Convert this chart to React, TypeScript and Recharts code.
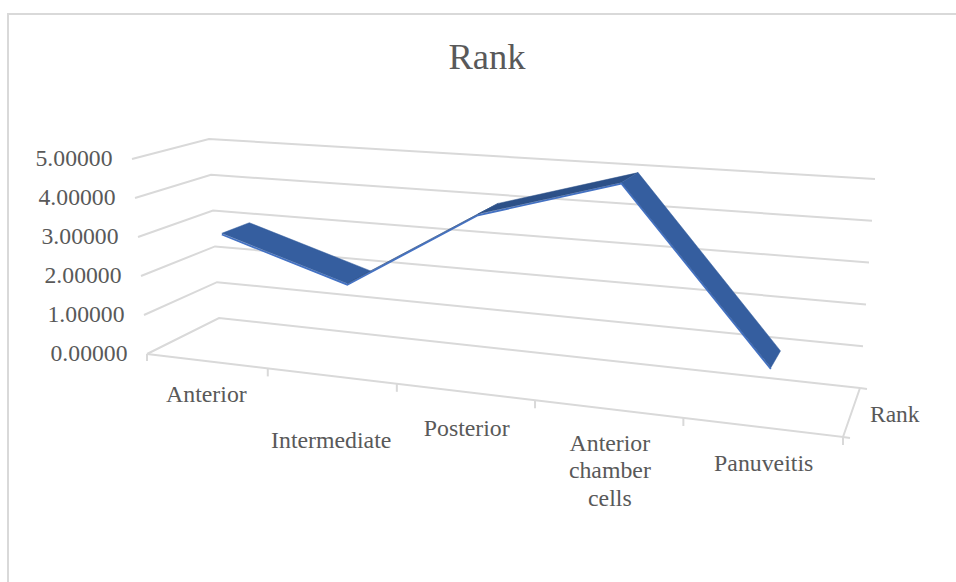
import { LineChart, Line, XAxis, YAxis } from 'recharts';

const categories = ['Anterior', 'Intermediate', 'Posterior', 'Anterior chamber cells', 'Panuveitis'];
const rankValues = [3, 2, 4, 5, 1];
const valueTicks = [0, 1, 2, 3, 4, 5];

const chartData = categories.map((name, i) => ({ name, rank: rankValues[i] }));

const WIDTH = 956;
const HEIGHT = 582;
const PLOT = { left: 100, top: 100, width: 700, height: 400 };
const GRID = '#D9D9D9';
const TEXT = '#595959';
const FONT = '"Liberation Serif", serif';

// label offsets from the floor for each category (Excel staggers Intermediate)
const labelDrop = [33, 64, 36, 34, 36];
const labelNudge = [0, 0, 2, 2, 2];

// screen corners of the 3D box: front/back, left/right, floor/top
const box = {
  fl0: [147, 354], fr0: [843, 437], bl0: [219, 318], br0: [860, 388],
  fl1: [132, 159], fr1: [850, 207], bl1: [209, 139], br1: [875, 179],
};

const mix = (a: number[], b: number[], k: number) => [a[0] + (b[0] - a[0]) * k, a[1] + (b[1] - a[1]) * k];

// t = 0..1 along categories, v = 0..1 up the value axis, d = 0 front .. 1 back
function project(t: number, v: number, d: number) {
  const s = (t * 0.84) / (t * 0.84 + (1 - t)); // perspective along x
  const floor = mix(mix(box.fl0, box.fr0, s), mix(box.bl0, box.br0, s), d);
  const top = mix(mix(box.fl1, box.fr1, s), mix(box.bl1, box.br1, s), d);
  return mix(floor, top, v);
}

const toT = (x: number) => (x - PLOT.left) / PLOT.width;
const toV = (y: number) => (PLOT.top + PLOT.height - y) / PLOT.height;
const pt = (p: number[]) => `${p[0].toFixed(1)},${p[1].toFixed(1)}`;

function ValueTick({ y, payload }: any) {
  const v = toV(y);
  const front = project(0, v, 0);
  const back = project(0, v, 1);
  const right = project(1, v, 1);
  const isFloor = payload.value === 0;
  return (
    <g>
      <polyline points={[front, back, right].map(pt).join(' ')} fill="none" stroke={GRID} strokeWidth={2} />
      {isFloor && (
        <g fill="none" stroke={GRID} strokeWidth={2}>
          <polyline points={[project(0, 0, 0), project(1, 0, 0), project(1, 0, 1)].map(pt).join(' ')} />
          <line x1={front[0]} y1={front[1]} x2={front[0]} y2={front[1] + 7} />
          <line x1={right[0]} y1={right[1]} x2={right[0] + 7} y2={right[1] + 1} />
          <line x1={box.fr0[0]} y1={box.fr0[1]} x2={box.fr0[0] + 7} y2={box.fr0[1] + 1} />
          <line x1={box.fr0[0]} y1={box.fr0[1]} x2={box.fr0[0]} y2={box.fr0[1] + 8} />
        </g>
      )}
      <text x={front[0] - 19.5} y={front[1] + 7} textAnchor="end" fontSize={23.7} fontFamily={FONT} fill={TEXT}>
        {Number(payload.value).toFixed(5)}
      </text>
    </g>
  );
}

function CategoryTick({ x, payload, index }: any) {
  const t = toT(x);
  const floor = project(t, 0, 0);
  const mark = project(t + 0.1, 0, 0);
  const lines = String(payload.value).split(' ');
  return (
    <g>
      {index < categories.length - 1 && (
        <line x1={mark[0]} y1={mark[1]} x2={mark[0]} y2={mark[1] + 8} stroke={GRID} strokeWidth={2} />
      )}
      <text textAnchor="middle" fontSize={23.8} fontFamily={FONT} fill={TEXT}>
        {lines.map((line, i) => (
          <tspan key={line} x={floor[0] + labelNudge[index]} y={floor[1] + labelDrop[index] + 8 + i * 27.5}>
            {line}
          </tspan>
        ))}
      </text>
    </g>
  );
}

// the ribbon is drawn once, from the points the Line hands to its first dot
function RibbonDot({ index, points }: any) {
  if (index !== 0) return <g key={index} />;
  const front = points.map((p: any) => project(toT(p.x), toV(p.y), 0.33));
  const back = points.map((p: any) => project(toT(p.x), toV(p.y), 0.72));
  const edge = front.map((p: number[]) => [p[0], p[1] + 1.2]);
  return (
    <g key="ribbon">
      <polyline points={edge.map(pt).join(' ')} fill="none" stroke="#4472C4" strokeWidth={1.8} />
      {front.slice(1).map((_: number[], i: number) => {
        const rising = points[i + 1].y < points[i].y;
        return (
          <polygon
            key={i}
            points={[front[i], back[i], back[i + 1], front[i + 1]].map(pt).join(' ')}
            fill={rising ? '#2C5088' : '#355E9F'}
            stroke={rising ? '#2C5088' : '#355E9F'}
            strokeWidth={0.5}
          />
        );
      })}
    </g>
  );
}

const chartMargin = {
  left: PLOT.left - 40,
  top: PLOT.top,
  right: WIDTH - PLOT.left - PLOT.width,
  bottom: HEIGHT - PLOT.top - PLOT.height - 40,
};

export default function App() {
  return (
    <div style={{ position: 'absolute', left: 0, top: 0, width: WIDTH, height: HEIGHT, background: '#fff', overflow: 'hidden' }}>
      <div style={{ position: 'absolute', left: 7, top: 13, right: -4, bottom: -4, borderLeft: `2px solid ${GRID}`, borderTop: `2px solid ${GRID}` }} />
      <div style={{ position: 'absolute', left: 0, width: 974, top: 35, textAlign: 'center', fontFamily: FONT, fontSize: 36.5, lineHeight: '44px', color: TEXT }}>
        Rank
      </div>
      <div style={{ position: 'absolute', left: 870, top: 400, fontFamily: FONT, fontSize: 23.5, lineHeight: '28px', color: TEXT }}>
        Rank
      </div>
      {/* axes and walls sit in their own chart, since Recharts paints ticks above the series */}
      <div style={{ position: 'absolute', left: 0, top: 0 }}>
        <LineChart width={WIDTH} height={HEIGHT} data={chartData} margin={chartMargin}>
          <XAxis dataKey="name" scale="band" height={40} axisLine={false} tickLine={false} interval={0} tick={(p: any) => <CategoryTick {...p} />} />
          <YAxis type="number" domain={[0, 5]} ticks={valueTicks} width={40} axisLine={false} tickLine={false} tick={(p: any) => <ValueTick {...p} />} />
          <Line dataKey="rank" stroke="none" dot={false} isAnimationActive={false} />
        </LineChart>
      </div>
      <div style={{ position: 'absolute', left: 0, top: 0 }}>
        <LineChart width={WIDTH} height={HEIGHT} data={chartData} margin={chartMargin}>
          <XAxis dataKey="name" scale="band" height={40} axisLine={false} tickLine={false} tick={false} />
          <YAxis type="number" domain={[0, 5]} ticks={valueTicks} width={40} axisLine={false} tickLine={false} tick={false} />
          <Line dataKey="rank" stroke="none" dot={(props: any) => <RibbonDot {...props} />} isAnimationActive={false} />
        </LineChart>
      </div>
    </div>
  );
}
